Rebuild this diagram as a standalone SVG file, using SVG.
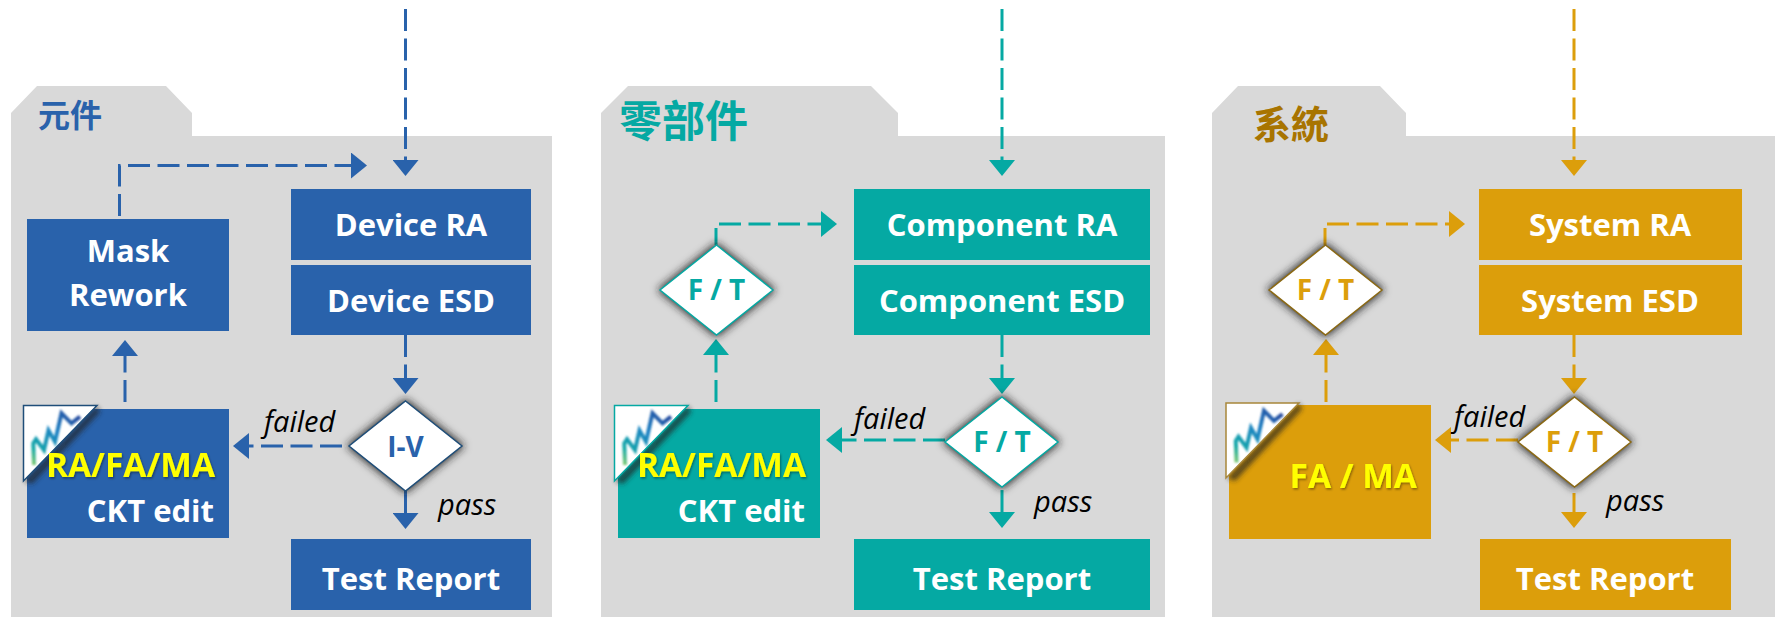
<svg xmlns="http://www.w3.org/2000/svg" width="1779" height="617" viewBox="0 0 1779 617">
<defs>
<style>
.panel{fill:#d9d9d9}
.t{font-family:"Open Sans","Noto Sans",sans-serif;font-weight:700;font-size:31px;text-anchor:middle;fill:#fff}
.y{fill:#ffff00;filter:url(#ts);font-size:33.500px}
.e{text-anchor:end}
.lab{font-family:"Open Sans","Noto Sans",sans-serif;font-style:italic;font-size:29px;fill:#000}
.cjk{font-family:"Noto Sans CJK TC","Noto Sans CJK SC",sans-serif;font-weight:700}
.dt{font-family:"Open Sans","Noto Sans",sans-serif;font-weight:700;font-size:28px;text-anchor:middle}
.c{fill:none;stroke-width:3;stroke-dasharray:22 7.5}
.s{fill:none;stroke-width:3}
.blue{fill:#2962ab}.teal{fill:#05a9a3}.amber{fill:#dc9e0b}
.lb{stroke:#2962ab}.lt{stroke:#05a9a3}.la{stroke:#dc9e0b}
.dm{fill:#fff;stroke-width:1.5}
.sh{fill:#222;stroke:#222;stroke-width:3;filter:url(#blur)}
.ts{fill:#222;opacity:.7;filter:url(#blur2)}
.logo{fill:none;stroke:url(#lg);stroke-width:4;stroke-linejoin:miter;filter:url(#soft)}
</style>
<filter id="blur" x="-30%" y="-30%" width="160%" height="160%"><feGaussianBlur stdDeviation="4"/></filter>
<filter id="blur2" x="-30%" y="-30%" width="160%" height="160%"><feGaussianBlur stdDeviation="2.500"/></filter>
<filter id="soft" x="-10%" y="-10%" width="120%" height="120%"><feGaussianBlur stdDeviation="0.800"/></filter>
<filter id="ts" x="-5%" y="-10%" width="110%" height="125%"><feDropShadow dx="1" dy="1.5" stdDeviation="1" flood-color="#000" flood-opacity="0.4"/></filter>
<linearGradient id="lg" gradientUnits="userSpaceOnUse" x1="8" y1="60" x2="56" y2="10"><stop offset="0" stop-color="#8fd06a"/><stop offset=".2" stop-color="#17a9a8"/><stop offset=".6" stop-color="#1c82c4"/><stop offset="1" stop-color="#27489d"/></linearGradient>
<marker id="mb" markerUnits="userSpaceOnUse" markerWidth="16" markerHeight="26" refX="0" refY="13" orient="auto"><path d="M0 0L16 13L0 26Z" fill="#2962ab"/></marker>
<marker id="mt" markerUnits="userSpaceOnUse" markerWidth="16" markerHeight="26" refX="0" refY="13" orient="auto"><path d="M0 0L16 13L0 26Z" fill="#05a9a3"/></marker>
<marker id="ma" markerUnits="userSpaceOnUse" markerWidth="16" markerHeight="26" refX="0" refY="13" orient="auto"><path d="M0 0L16 13L0 26Z" fill="#dc9e0b"/></marker>
<g id="logoShape"><path d="M0 0H73L0 75Z" fill="#fff"/><path class="logo" d="M10.500 59.500L9.800 37.800L12.500 33.800L20.500 44.500L25 25L31.500 36.200L38 7.800L48 17.800L56.500 11.200"/></g>
</defs>

<g id="panel-device"><path class="panel" d="M11 113L37 86H166L192 113V136H552V617H11Z"/><text class="cjk" x="38" y="127" font-size="32" fill="#2962ab">元件</text></g>
<g id="panel-component"><path class="panel" d="M601 136V113L628 86H871L898 113V136H1165V617H601Z"/><text class="cjk" x="619" y="137" font-size="43" fill="#05a9a3">零部件</text></g>
<g id="panel-system"><path class="panel" d="M1212 113L1238 86H1380L1406 113V136H1775V617H1212Z"/><text class="cjk" x="1253" y="138" font-size="38" fill="#a87400">系統</text></g>

<g id="connectors">
<path class="c lb" d="M405.500 9V160" marker-end="url(#mb)"/>
<path class="c lb" d="M119.500 216V165.500H351" marker-end="url(#mb)"/>
<path class="c lb" d="M125 402V356" marker-end="url(#mb)"/>
<path class="c lb" d="M405.500 335V378" marker-end="url(#mb)"/>
<path class="s lb" d="M405.500 491V513" marker-end="url(#mb)"/>
<path class="c lb" d="M342 446H249" marker-end="url(#mb)"/>

<path class="c lt" d="M1002 9V160" marker-end="url(#mt)"/>
<path class="s lt" d="M716 245V228"/>
<path class="c lt" d="M719 224H821" marker-end="url(#mt)"/>
<path class="c lt" d="M716 402V355" marker-end="url(#mt)"/>
<path class="c lt" d="M1002 335V378" marker-end="url(#mt)"/>
<path class="s lt" d="M1002 490V512" marker-end="url(#mt)"/>
<path class="c lt" d="M945 440H842" marker-end="url(#mt)"/>

<path class="c la" d="M1574 9V160" marker-end="url(#ma)"/>
<path class="s la" d="M1325 245V228"/>
<path class="c la" d="M1327 224H1449" marker-end="url(#ma)"/>
<path class="c la" d="M1326 402V355" marker-end="url(#ma)"/>
<path class="c la" d="M1574 335V378" marker-end="url(#ma)"/>
<path class="s la" d="M1574 493V512" marker-end="url(#ma)"/>
<path class="c la" d="M1518 440H1451" marker-end="url(#ma)"/>
</g>

<g id="n-device-ra"><rect class="blue" x="291" y="189" width="240" height="71"/><text class="t" x="411" y="236">Device RA</text></g>
<g id="n-device-esd"><rect class="blue" x="291" y="265" width="240" height="70"/><text class="t" x="411" y="312">Device ESD</text></g>
<g id="n-mask"><rect class="blue" x="27" y="219" width="202" height="112"/><text class="t" x="128" y="262">Mask</text><text class="t" x="128" y="306">Rework</text></g>
<g id="n-iv"><path class="sh" d="M405.500 401L462 446L405.500 491L349 446Z"/><path class="dm" stroke="#1f4e79" d="M405.500 401L462 446L405.500 491L349 446Z"/><text class="dt" x="405.500" y="457" fill="#2962ab">I-V</text></g>
<g id="n-rafa1"><rect class="blue" x="27" y="409" width="202" height="129"/><path class="ts" d="M24 481L97 406L100 412L32 484Z"/><use href="#logoShape" x="23.500" y="405.500"/><path d="M23.500 481V405.500H97Z" fill="none" stroke="#1f4e79" stroke-width="1.500"/><text class="t y e" x="215" y="477">RA/FA/MA</text><text class="t e" x="214" y="522">CKT edit</text></g>
<g id="n-test1"><rect class="blue" x="291" y="539" width="240" height="71"/><text class="t" x="411" y="590">Test Report</text></g>
<text class="lab" x="264" y="432">failed</text>
<text class="lab" x="438" y="515">pass</text>

<g id="n-comp-ra"><rect class="teal" x="854" y="189" width="296" height="71"/><text class="t" x="1002" y="236">Component RA</text></g>
<g id="n-comp-esd"><rect class="teal" x="854" y="265" width="296" height="70"/><text class="t" x="1002" y="312">Component ESD</text></g>
<g id="n-ft-c1"><path class="sh" d="M716.500 245L773 290L716.500 335L660 290Z"/><path class="dm" stroke="#05a9a3" d="M716.500 245L773 290L716.500 335L660 290Z"/><text class="dt" x="716.500" y="300" fill="#05a9a3">F / T</text></g>
<g id="n-ft-c2"><path class="sh" d="M1002 397L1058 442L1002 487L945 442Z"/><path class="dm" stroke="#05a9a3" d="M1002 397L1058 442L1002 487L945 442Z"/><text class="dt" x="1002" y="452" fill="#05a9a3">F / T</text></g>
<g id="n-rafa2"><rect class="teal" x="618" y="409" width="202" height="129"/><path class="ts" d="M615 481L688 406L691 412L623 484Z"/><use href="#logoShape" x="614.500" y="405.500"/><path d="M614.500 481V405.500H688Z" fill="none" stroke="#05a9a3" stroke-width="1.500"/><text class="t y e" x="806" y="477">RA/FA/MA</text><text class="t e" x="805" y="522">CKT edit</text></g>
<g id="n-test2"><rect class="teal" x="854" y="539" width="296" height="71"/><text class="t" x="1002" y="590">Test Report</text></g>
<text class="lab" x="854" y="429">failed</text>
<text class="lab" x="1034" y="512">pass</text>

<g id="n-sys-ra"><rect class="amber" x="1479" y="189" width="263" height="71"/><text class="t" x="1610" y="236">System RA</text></g>
<g id="n-sys-esd"><rect class="amber" x="1479" y="265" width="263" height="70"/><text class="t" x="1610" y="312">System ESD</text></g>
<g id="n-ft-s1"><path class="sh" d="M1325.500 245L1382 290L1325.500 335L1269 290Z"/><path class="dm" stroke="#8b6914" d="M1325.500 245L1382 290L1325.500 335L1269 290Z"/><text class="dt" x="1325.500" y="300" fill="#dc9e0b">F / T</text></g>
<g id="n-ft-s2"><path class="sh" d="M1574.500 397L1631 442L1574.500 487L1518 442Z"/><path class="dm" stroke="#8b6914" d="M1574.500 397L1631 442L1574.500 487L1518 442Z"/><text class="dt" x="1574.500" y="452" fill="#dc9e0b">F / T</text></g>
<g id="n-fama"><rect class="amber" x="1229" y="405" width="202" height="134"/><path class="ts" d="M1227 478L1299 403L1302 409L1235 481Z"/><use href="#logoShape" x="1226" y="403"/><path d="M1226 478V403H1299Z" fill="none" stroke="#a8873a" stroke-width="1.500"/><text class="t y e" x="1417" y="488">FA / MA</text></g>
<g id="n-test3"><rect class="amber" x="1480" y="539" width="251" height="71"/><text class="t" x="1605" y="590">Test Report</text></g>
<text class="lab" x="1454" y="427">failed</text>
<text class="lab" x="1606" y="511">pass</text>
</svg>
